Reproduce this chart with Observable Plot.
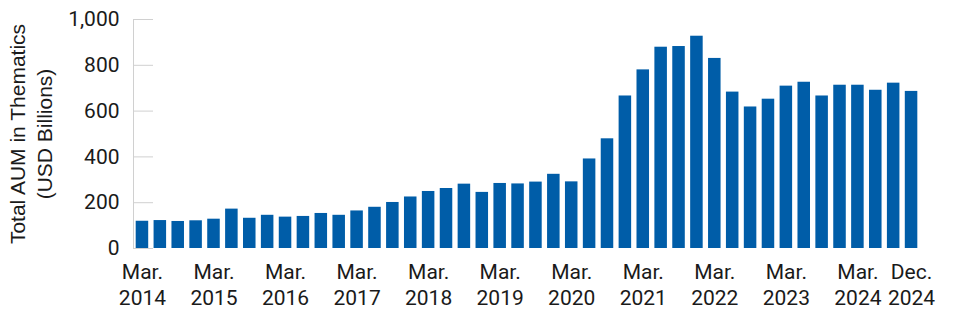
<!DOCTYPE html>
<html><head><meta charset="utf-8">
<script src="https://cdn.jsdelivr.net/npm/d3@7"></script>
<script src="https://cdn.jsdelivr.net/npm/@observablehq/plot@0.6"></script>
<style>body{margin:0;background:#fff}</style>
</head><body><div id="chart"></div>
<script>
const quarters = [
  "Mar 2014","Jun 2014","Sep 2014","Dec 2014",
  "Mar 2015","Jun 2015","Sep 2015","Dec 2015",
  "Mar 2016","Jun 2016","Sep 2016","Dec 2016",
  "Mar 2017","Jun 2017","Sep 2017","Dec 2017",
  "Mar 2018","Jun 2018","Sep 2018","Dec 2018",
  "Mar 2019","Jun 2019","Sep 2019","Dec 2019",
  "Mar 2020","Jun 2020","Sep 2020","Dec 2020",
  "Mar 2021","Jun 2021","Sep 2021","Dec 2021",
  "Mar 2022","Jun 2022","Sep 2022","Dec 2022",
  "Mar 2023","Jun 2023","Sep 2023","Dec 2023",
  "Mar 2024","Jun 2024","Sep 2024","Dec 2024"
];
const aum = [
  119, 122, 118, 121,
  128, 172, 132, 145,
  137, 140, 153, 145,
  164, 180, 201, 225,
  249, 262, 281, 245,
  284, 282, 290, 324,
  291, 391, 479, 666,
  780, 879, 882, 927,
  830, 683, 618, 652,
  709, 726, 666, 713,
  713, 691, 722, 686
];
const tickQuarters = ["Mar 2014","Mar 2015","Mar 2016","Mar 2017","Mar 2018","Mar 2019","Mar 2020","Mar 2021","Mar 2022","Mar 2023","Mar 2024","Dec 2024"];
const tickLabels = ["Mar.\n2014","Mar.\n2015","Mar.\n2016","Mar.\n2017","Mar.\n2018","Mar.\n2019","Mar.\n2020","Mar.\n2021","Mar.\n2022","Mar.\n2023","Mar.\n2024","Dec.\n2024"];
const yTicks = [0, 200, 400, 600, 800, 1000];
const yTitle = ["Total AUM in Thematics", "(USD Billions)"];

const data = quarters.map((q, i) => ({q, v: aum[i]}));
const labelOf = new Map(tickQuarters.map((q, i) => [q, tickLabels[i]]));

const chart = Plot.plot({
  width: 960, height: 311,
  marginLeft: 133, marginRight: 40, marginTop: 19, marginBottom: 63,
  style: {fontFamily: "Roboto", fontSize: "21px", color: "#1a1a1a", background: "#fff"},
  x: {domain: quarters, paddingInner: 0.3, paddingOuter: 0.15, axis: null},
  y: {domain: [0, 1000], axis: null},
  marks: [
    Plot.frame({anchor: "left", stroke: "#d0d0d0"}),
    Plot.axisY(yTicks, {tickSize: 20, dx: 20, stroke: "#d0d0d0", tickFormat: () => "", label: null}),
    Plot.axisY(yTicks, {tickSize: 0, tickPadding: 14, tickFormat: d3.format(","), fontSize: 21, label: null}),
    Plot.barY(data, {x: "q", y: "v", fill: "#005DA8"}),
    Plot.axisX(tickQuarters, {tickSize: 0, tickPadding: 13, tickFormat: q => labelOf.get(q), fontSize: 21, lineHeight: 1.2, label: null}),
    Plot.text([yTitle[0]], {text: d => d, frameAnchor: "left", textAnchor: "middle", rotate: -90, dx: -115, fontFamily: "Liberation Sans", fontSize: 21, fill: "#1a1a1a"}),
    Plot.text([yTitle[1]], {text: d => d, frameAnchor: "left", textAnchor: "middle", rotate: -90, dx: -88, fontFamily: "Liberation Sans", fontSize: 21, fill: "#1a1a1a"})
  ]
});
document.getElementById("chart").appendChild(chart);
</script>
</body></html>
